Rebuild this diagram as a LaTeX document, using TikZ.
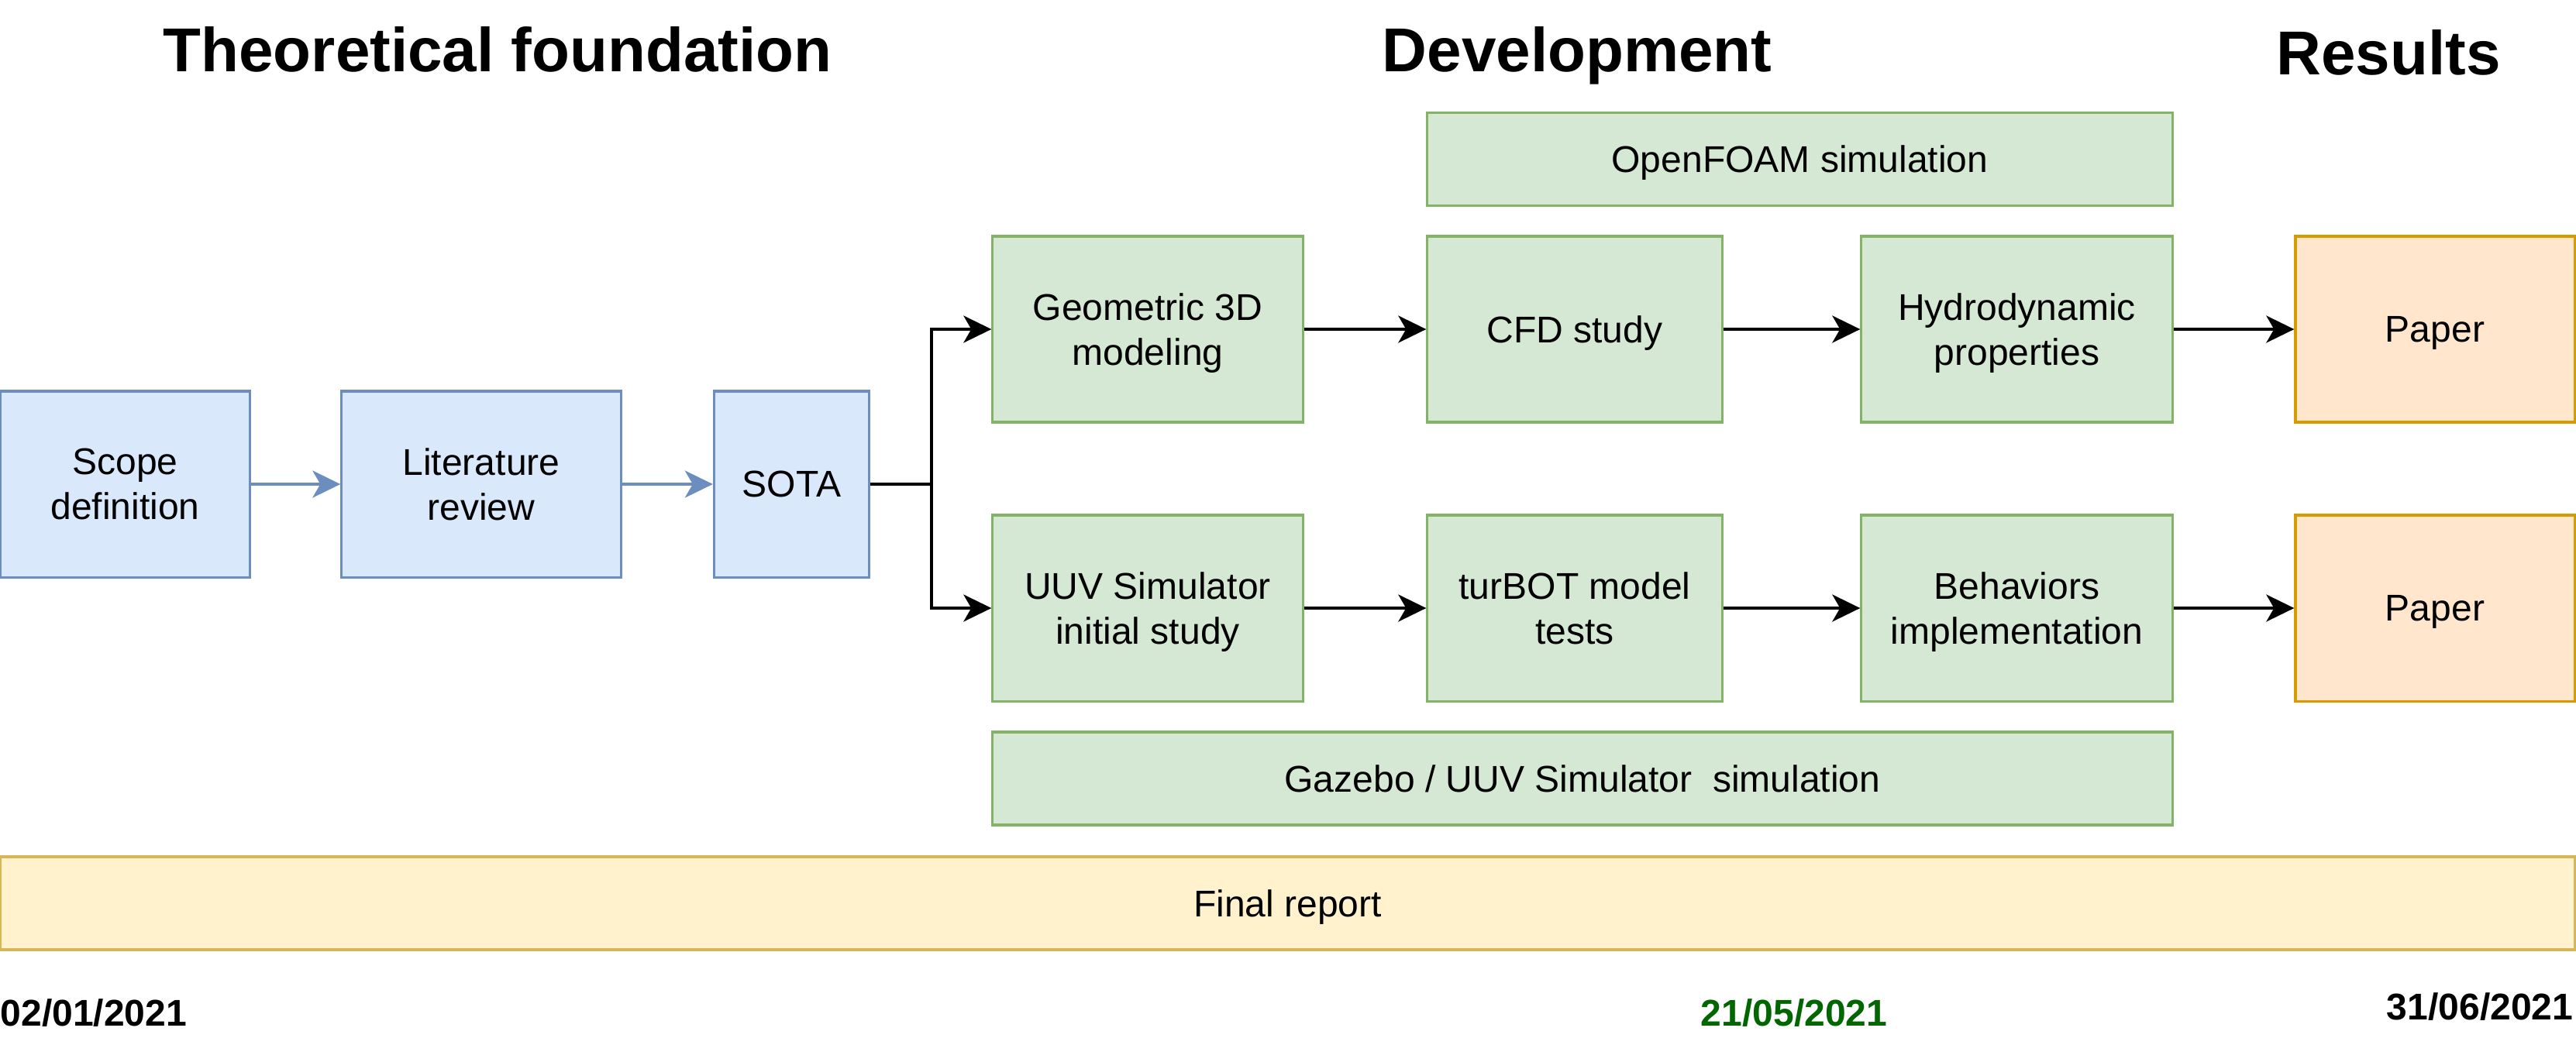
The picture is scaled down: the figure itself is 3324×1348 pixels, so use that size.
\documentclass[tikz,border=0pt]{standalone}
\usepackage{fontspec}
\setmainfont{Liberation Sans}
\usetikzlibrary{arrows.meta}

\definecolor{blaufuell}{HTML}{DAE8FC}
\definecolor{blaurand}{HTML}{6C8EBF}
\definecolor{gruenfuell}{HTML}{D5E8D4}
\definecolor{gruenrand}{HTML}{82B366}
\definecolor{orangefuell}{HTML}{FFE6CC}
\definecolor{orangerand}{HTML}{D79B00}
\definecolor{gelbfuell}{HTML}{FFF2CC}
\definecolor{gelbrand}{HTML}{D6B656}
\definecolor{datumgruen}{HTML}{006600}

\begin{document}
\begin{tikzpicture}[x=0.01cm, y=-0.01cm,
        kasten/.style={draw, line width=0.9pt, minimum height=2.4cm, align=center, inner sep=0pt, text depth=0pt, font=\fontsize{13.66}{16.4}\selectfont},
        blau/.style={kasten, fill=blaufuell, draw=blaurand},
        gruen/.style={kasten, fill=gruenfuell, draw=gruenrand},
        ergebnis/.style={kasten, fill=orangefuell, draw=orangerand, minimum width=3.6cm},
        balken/.style={kasten, minimum height=1.2cm},
        pfeil/.style={-{Stealth[length=0.36cm, width=0.35cm, inset=0.1cm]}, line width=0.9pt},
        titel/.style={font=\bfseries\fontsize{22.76}{27}\selectfont, inner sep=0pt},
        datum/.style={font=\bfseries\fontsize{13.66}{16.4}\selectfont, inner sep=0pt}]
        \useasboundingbox (0,0) rectangle (3324,1348);

        % Ueberschriften
        \node [titel] (theorie) at (642,64) {Theoretical foundation};
        \node [titel] (entwicklung) at (2035,72) {Development};
        \node [titel] (ergebnisse) at (3082,68) {Results};

        % Grundlagen
        \node [blau, minimum width=3.21cm] (bereich) at (161.5,625) {Scope\\definition};
        \node [blau, minimum width=3.6cm] (literatur) at (621,625) {Literature\\review};
        \node [blau, minimum width=2cm] (sota) at (1021.5,625) {SOTA};
        \coordinate (verzweigung) at (1202,625);

        % Entwicklung, oben
        \node [gruen, balken, minimum width=9.61cm] (openfoam) at (2322.5,205.5) {OpenFOAM simulation};
        \node [gruen, minimum width=4cm] (geometrie) at (1481,425) {Geometric 3D\\modeling};
        \node [gruen, minimum width=3.8cm] (cfd) at (2032,425) {CFD study};
        \node [gruen, minimum width=4.01cm] (hydro) at (2602.5,425) {Hydrodynamic\\properties};
        \node [ergebnis] (papieroben) at (3142,425) {Paper};

        % Entwicklung, unten
        \node [gruen, minimum width=4cm] (uuv) at (1481,785) {UUV Simulator\\initial study};
        \node [gruen, minimum width=3.8cm] (turbot) at (2032,785) {turBOT model\\tests};
        \node [gruen, minimum width=4.01cm] (verhalten) at (2602.5,785) {Behaviors\\implementation};
        \node [ergebnis] (papierunten) at (3142,785) {Paper};
        \node [gruen, balken, minimum width=15.22cm] (gazebo) at (2042,1005) {Gazebo / UUV Simulator\ \ simulation};

        % Bericht und Daten
        \node [kasten, balken, fill=gelbfuell, draw=gelbrand, minimum width=33.21cm] (bericht) at (1661.5,1166) {Final report};
        \node [datum, anchor=west] (start) at (0,1308) {02/01/2021};
        \node [datum, anchor=center, text=datumgruen] (mitte) at (2315,1308) {21/05/2021};
        \node [datum, anchor=east] (ende) at (3321,1300) {31/06/2021};

        % Pfeile
        \draw [pfeil, blaurand] (bereich) -- (literatur);
        \draw [pfeil, blaurand] (literatur) -- (sota);
        \draw [line width=0.9pt] (sota.east) -- (verzweigung);
        \draw [pfeil] (verzweigung) |- (geometrie.west);
        \draw [pfeil] (verzweigung) |- (uuv.west);
        \draw [pfeil] (geometrie) -- (cfd);
        \draw [pfeil] (cfd) -- (hydro);
        \draw [pfeil] (hydro) -- (papieroben);
        \draw [pfeil] (uuv) -- (turbot);
        \draw [pfeil] (turbot) -- (verhalten);
        \draw [pfeil] (verhalten) -- (papierunten);
\end{tikzpicture}
\end{document}
